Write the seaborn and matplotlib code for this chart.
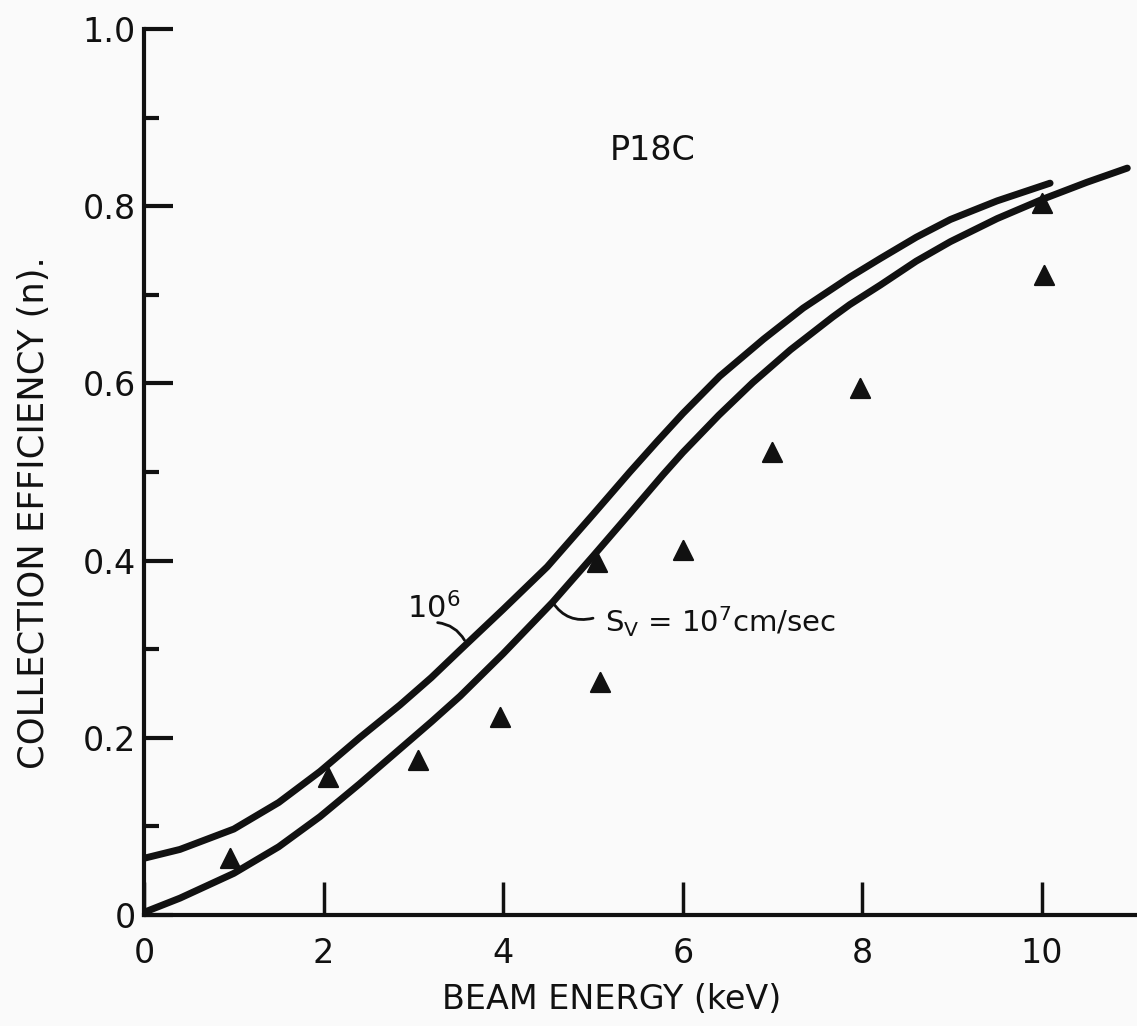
import matplotlib
matplotlib.use("Agg")
import matplotlib.pyplot as plt
import seaborn as sns
import pandas as pd
from matplotlib.ticker import FixedLocator, FixedFormatter

# ---- data ----
# curve for S_V = 10^6 cm/sec (upper curve)
sv6_energy = [0.0, 0.40, 1.00, 1.50, 1.96, 2.40, 2.85, 3.20, 3.52, 4.00, 4.49, 5.00,
              5.41, 5.71, 6.00, 6.41, 6.90, 7.34, 7.86, 8.20, 8.60, 8.98, 9.50, 10.09]
sv6_eff = [0.064, 0.074, 0.097, 0.127, 0.162, 0.200, 0.237, 0.268, 0.299, 0.345, 0.393, 0.452,
           0.500, 0.534, 0.566, 0.608, 0.650, 0.685, 0.720, 0.741, 0.765, 0.785, 0.806, 0.826]

# curve for S_V = 10^7 cm/sec (lower curve)
sv7_energy = [0.0, 0.40, 1.00, 1.50, 1.96, 2.40, 2.88, 3.20, 3.52, 4.00, 4.55, 5.00, 5.40,
              5.78, 6.00, 6.40, 6.78, 7.20, 7.67, 7.86, 8.20, 8.60, 8.98, 9.50, 10.01, 10.50, 10.95]
sv7_eff = [0.003, 0.019, 0.047, 0.077, 0.111, 0.148, 0.190, 0.218, 0.247, 0.295, 0.353, 0.405, 0.452,
           0.497, 0.522, 0.564, 0.601, 0.638, 0.675, 0.689, 0.711, 0.738, 0.760, 0.786, 0.808, 0.827, 0.843]

# measured points (triangles)
meas_energy = [0.96, 2.05, 3.05, 3.96, 5.04, 5.08, 6.00, 6.99, 7.97, 10.00, 10.02]
meas_eff = [0.064, 0.156, 0.175, 0.223, 0.398, 0.263, 0.412, 0.523, 0.595, 0.804, 0.722]

x_ticks = [0, 2, 4, 6, 8, 10]
x_tick_labels = ["0", "2", "4", "6", "8", "10"]
y_ticks = [0.0, 0.2, 0.4, 0.6, 0.8, 1.0]
y_tick_labels = ["0", "0.2", "0.4", "0.6", "0.8", "1.0"]
y_minor_ticks = [0.1, 0.3, 0.5, 0.7, 0.9]

x_label = "BEAM ENERGY (keV)"
y_label = "COLLECTION EFFICIENCY (n)."
sample_label = "P18C"
label_sv6 = r"10$^\mathregular{6}$"
label_sv7 = r"S$_\mathregular{V}$ = 10$^\mathregular{7}$cm/sec"

# ---- style ----
sns.set_theme(style="ticks")
plt.rcParams["font.family"] = ["DejaVu Sans"]
plt.rcParams["mathtext.fontset"] = "dejavusans"
ink = "#111111"
paper = "#fafafa"

W, H = 1137, 1026
fig = plt.figure(figsize=(W / 100, H / 100), dpi=100, facecolor=paper)
ax = fig.add_axes([144 / W, 111 / H, 993 / W, 886 / H])
ax.set_facecolor(paper)

df6 = pd.DataFrame({"energy": sv6_energy, "eff": sv6_eff})
df7 = pd.DataFrame({"energy": sv7_energy, "eff": sv7_eff})
dfm = pd.DataFrame({"energy": meas_energy, "eff": meas_eff})

sns.lineplot(data=df6, x="energy", y="eff", sort=False, estimator=None,
             color=ink, linewidth=5, solid_capstyle="round", solid_joinstyle="round", ax=ax)
sns.lineplot(data=df7, x="energy", y="eff", sort=False, estimator=None,
             color=ink, linewidth=5, solid_capstyle="round", solid_joinstyle="round", ax=ax)
sns.scatterplot(data=dfm, x="energy", y="eff", marker="^", s=190, color=ink,
                edgecolor=ink, linewidth=1.5, zorder=5, ax=ax)

ax.set_xlim(0, 993 / 89.8)
ax.set_ylim(0, 1.0)

for side in ("top", "right"):
    ax.spines[side].set_visible(False)
for side in ("left", "bottom"):
    ax.spines[side].set_linewidth(3)
    ax.spines[side].set_color(ink)

ax.xaxis.set_major_locator(FixedLocator(x_ticks))
ax.xaxis.set_major_formatter(FixedFormatter(x_tick_labels))
ax.yaxis.set_major_locator(FixedLocator(y_ticks))
ax.yaxis.set_major_formatter(FixedFormatter(y_tick_labels))
ax.yaxis.set_minor_locator(FixedLocator(y_minor_ticks))

ax.tick_params(axis="x", which="major", direction="in", length=24, width=2.5,
               labelsize=24, pad=16, colors=ink)
ax.tick_params(axis="y", which="major", direction="in", length=21, width=3,
               labelsize=24, pad=6, colors=ink)
ax.tick_params(axis="y", which="minor", direction="in", length=11, width=3, colors=ink)

ax.set_xlabel(x_label, fontsize=24, color=ink)
ax.xaxis.set_label_coords(0.471, -0.077)
ax.set_ylabel(y_label, fontsize=25.5, color=ink)
ax.yaxis.set_label_coords(-0.094, 0.454)

ax.text(5.66, 0.863, sample_label, ha="center", va="center", fontsize=24, color=ink)

ax.text(2.93, 0.335, label_sv6, ha="left", va="baseline", fontsize=22, color=ink)
ax.annotate("", xy=(3.57, 0.310), xytext=(3.27, 0.330),
            arrowprops=dict(arrowstyle="-", connectionstyle="arc3,rad=-0.25",
                            lw=2, color=ink, shrinkA=0, shrinkB=0))

ax.text(5.13, 0.319, label_sv7, ha="left", va="baseline", fontsize=21, color=ink)
ax.annotate("", xy=(4.55, 0.353), xytext=(5.00, 0.335),
            arrowprops=dict(arrowstyle="-", connectionstyle="arc3,rad=-0.35",
                            lw=2, color=ink, shrinkA=0, shrinkB=0))

fig.savefig("out.png", dpi=100, facecolor=paper)
